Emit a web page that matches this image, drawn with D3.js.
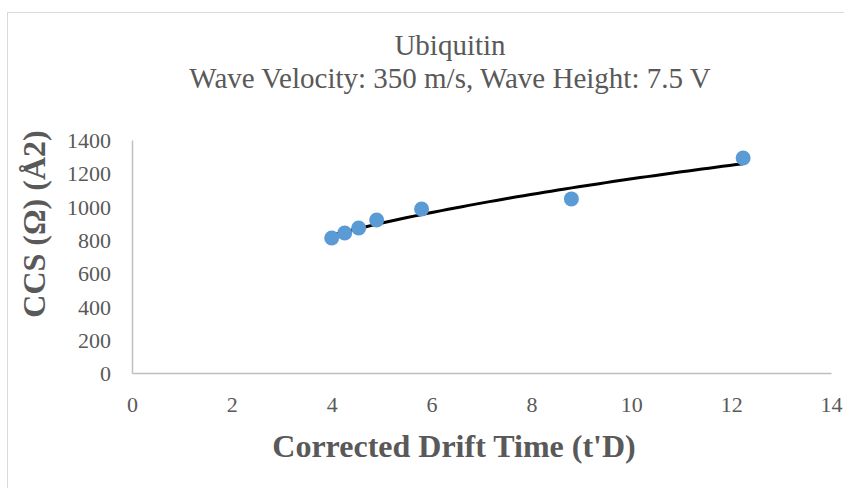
<!DOCTYPE html>
<html>
<head>
<meta charset="utf-8">
<script src="https://cdn.jsdelivr.net/npm/d3@7"></script>
<style>
  body { margin: 0; background: #fff; }
</style>
</head>
<body>
<svg class="mainSvg"></svg>
<script>
(function () {
  // data
  const driftTimes = [4.0, 4.26, 4.54, 4.9, 5.8, 8.8, 12.24];
  const ccsValues = [811, 841, 871, 919, 985, 1046, 1292];
  const xTicks = [0, 2, 4, 6, 8, 10, 12, 14];
  const yTicks = [0, 200, 400, 600, 800, 1000, 1200, 1400];
  const titleLines = ['Ubiquitin', 'Wave Velocity: 350 m/s, Wave Height: 7.5 V'];

  const initWidth = 844;
  const initHeight = 488;
  const serif = 'Liberation Serif';
  const grey = '#595959';
  const plot = { left: 132, right: 831, top: 140, bottom: 373 };

  const svg = d3.select('.mainSvg')
    .attr('width', initWidth)
    .attr('height', initHeight);

  // chart frame
  svg.append('rect')
    .attr('x', 7.5).attr('y', 12.5)
    .attr('width', initWidth).attr('height', initHeight)
    .attr('fill', 'none').attr('stroke', '#d9d9d9');

  const x = d3.scaleLinear().domain([0, 14]).range([plot.left, plot.right]);
  const y = d3.scaleLinear().domain([0, 1400]).range([plot.bottom, plot.top]);

  // axes
  const xAxis = svg.append('g')
    .attr('transform', `translate(0,${plot.bottom})`)
    .call(d3.axisBottom(x).tickValues(xTicks).tickFormat(d3.format('d')).tickSize(0).tickPadding(28));
  const yAxis = svg.append('g')
    .attr('transform', `translate(${plot.left},0)`)
    .call(d3.axisLeft(y).tickValues(yTicks).tickFormat(d3.format('d')).tickSize(0).tickPadding(21));
  [xAxis, yAxis].forEach(function (g) {
    g.attr('font-family', serif).attr('font-size', 22);
    g.select('.domain').attr('stroke', '#bfbfbf').attr('stroke-width', 1.5);
    g.selectAll('text').attr('fill', grey);
  });
  xAxis.selectAll('text').attr('dy', '0.5em');
  yAxis.selectAll('text').attr('dy', '0.35em');

  // power trendline y = a * x^b (least squares on logs)
  const lx = driftTimes.map(Math.log);
  const ly = ccsValues.map(Math.log);
  const mx = d3.mean(lx);
  const my = d3.mean(ly);
  const b = d3.sum(lx, (v, i) => (v - mx) * (ly[i] - my)) / d3.sum(lx, v => (v - mx) * (v - mx));
  const a = Math.exp(my - b * mx);
  const x0 = d3.min(driftTimes);
  const x1 = d3.max(driftTimes);
  const trend = d3.range(0, 61).map(i => x0 + (x1 - x0) * i / 60);
  svg.append('path')
    .attr('d', d3.line().x(d => x(d)).y(d => y(a * Math.pow(d, b)))(trend))
    .attr('fill', 'none')
    .attr('stroke', '#000')
    .attr('stroke-width', 3);

  // points
  svg.append('g')
    .selectAll('circle')
    .data(driftTimes)
    .enter()
    .append('circle')
    .attr('cx', d => x(d))
    .attr('cy', (d, i) => y(ccsValues[i]))
    .attr('r', 7.5)
    .attr('fill', '#5b9bd5');

  // titles
  svg.append('text')
    .attr('font-family', serif)
    .attr('fill', grey)
    .attr('font-size', 29)
    .attr('text-anchor', 'middle')
    .selectAll('tspan')
    .data(titleLines)
    .enter()
    .append('tspan')
    .attr('x', 450)
    .attr('y', (d, i) => 55 + i * 33)
    .text(d => d);

  svg.append('text')
    .attr('x', 454).attr('y', 457)
    .attr('text-anchor', 'middle')
    .attr('font-family', serif).attr('fill', grey)
    .attr('font-size', 32).attr('font-weight', 'bold')
    .text("Corrected Drift Time (t'D)");

  svg.append('text')
    .attr('transform', 'translate(45,224) rotate(-90)')
    .attr('text-anchor', 'middle')
    .attr('font-family', serif).attr('fill', grey)
    .attr('font-size', 32).attr('font-weight', 'bold')
    .text('CCS (Ω) (Å2)');
})();
</script>
</body>
</html>
